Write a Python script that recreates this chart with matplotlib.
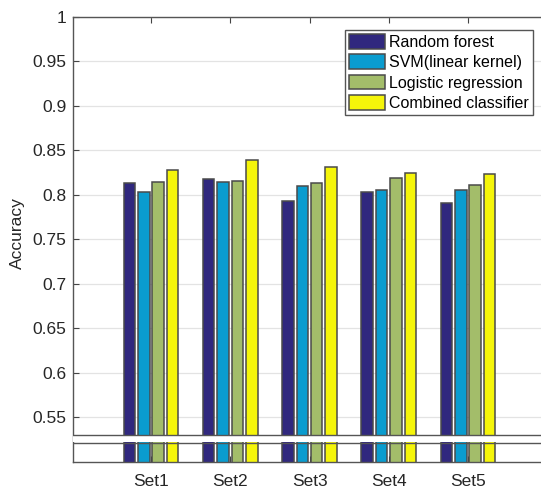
import matplotlib
matplotlib.use("Agg")
import matplotlib.pyplot as plt
import numpy as np

plt.rcParams['font.family'] = ['Liberation Sans', 'DejaVu Sans']

categories = ["Set1", "Set2", "Set3", "Set4", "Set5"]
series_names = ["Random forest", "SVM(linear kernel)", "Logistic regression", "Combined classifier"]
random_forest = [0.813, 0.818, 0.793, 0.803, 0.791]
svm_linear = [0.803, 0.815, 0.810, 0.805, 0.805]
logistic_reg = [0.815, 0.816, 0.813, 0.819, 0.811]
combined = [0.828, 0.839, 0.831, 0.825, 0.824]
yticks = [0.55, 0.6, 0.65, 0.7, 0.75, 0.8, 0.85, 0.9, 0.95, 1.0]
ytick_labels = ["0.55", "0.6", "0.65", "0.7", "0.75", "0.8", "0.85", "0.9", "0.95", "1"]

colors = ["#30287E", "#0A9CCF", "#A3BD6A", "#F5F50A"]
series = [random_forest, svm_linear, logistic_reg, combined]

W, H = 541, 491
fig = plt.figure(figsize=(W / 100, H / 100), dpi=100)
left_px, top_px, bottom_px = 73.3, 17.0, 461.7
ax = fig.add_axes([left_px / W, (H - bottom_px) / H, 474 / W, (bottom_px - top_px) / H])

x = np.arange(1, len(categories) + 1)
d = 0.182
bw = 0.8 * d
for i, (vals, c, name) in enumerate(zip(series, colors, series_names)):
    ax.bar(x + (i - 1.5) * d, vals, width=bw, color=c, edgecolor="#4a4a4a",
           linewidth=1.1, label=name, zorder=2)

ax.set_xlim(0.02, 6)
ax.set_ylim(0.5, 1.0)
ax.set_yticks(yticks)
ax.set_yticklabels(ytick_labels)
ax.set_xticks(x)
ax.set_xticklabels(categories)
ax.yaxis.grid(True, color="#E3E3E3", linewidth=0.9, zorder=0)
ax.set_axisbelow(True)
ax.tick_params(direction="in", length=4, width=0.8, color="#444444",
               labelsize=12.5, labelcolor="#262626", top=True, right=True)
ax.tick_params(axis="x", pad=8.5)
ax.tick_params(axis="y", pad=5)
for s in ax.spines.values():
    s.set_color("#555555")
    s.set_linewidth(1.0)

# axis break decoration
ax.axhspan(0.5222, 0.5292, color="white", zorder=3, linewidth=0)
ax.axhline(0.5300, color="#555555", linewidth=1.0, zorder=4)
ax.axhline(0.5214, color="#555555", linewidth=1.0, zorder=4)

ax.set_ylabel("Accuracy", fontsize=12.5, color="#262626")
ax.yaxis.set_label_coords((25 - left_px) / 474, (bottom_px - 233) / (bottom_px - top_px))

leg = ax.legend(loc="upper right", bbox_to_anchor=(533 / W, 1 - 30 / H),
                bbox_transform=fig.transFigure, borderaxespad=0,
                fontsize=11.5, handlelength=2.25, handleheight=1.05,
                handletextpad=0.25, labelspacing=0.28, borderpad=0.25,
                fancybox=False, framealpha=1, edgecolor="#555555")
leg.get_frame().set_linewidth(1.0)

fig.savefig("out.png", dpi=100)
